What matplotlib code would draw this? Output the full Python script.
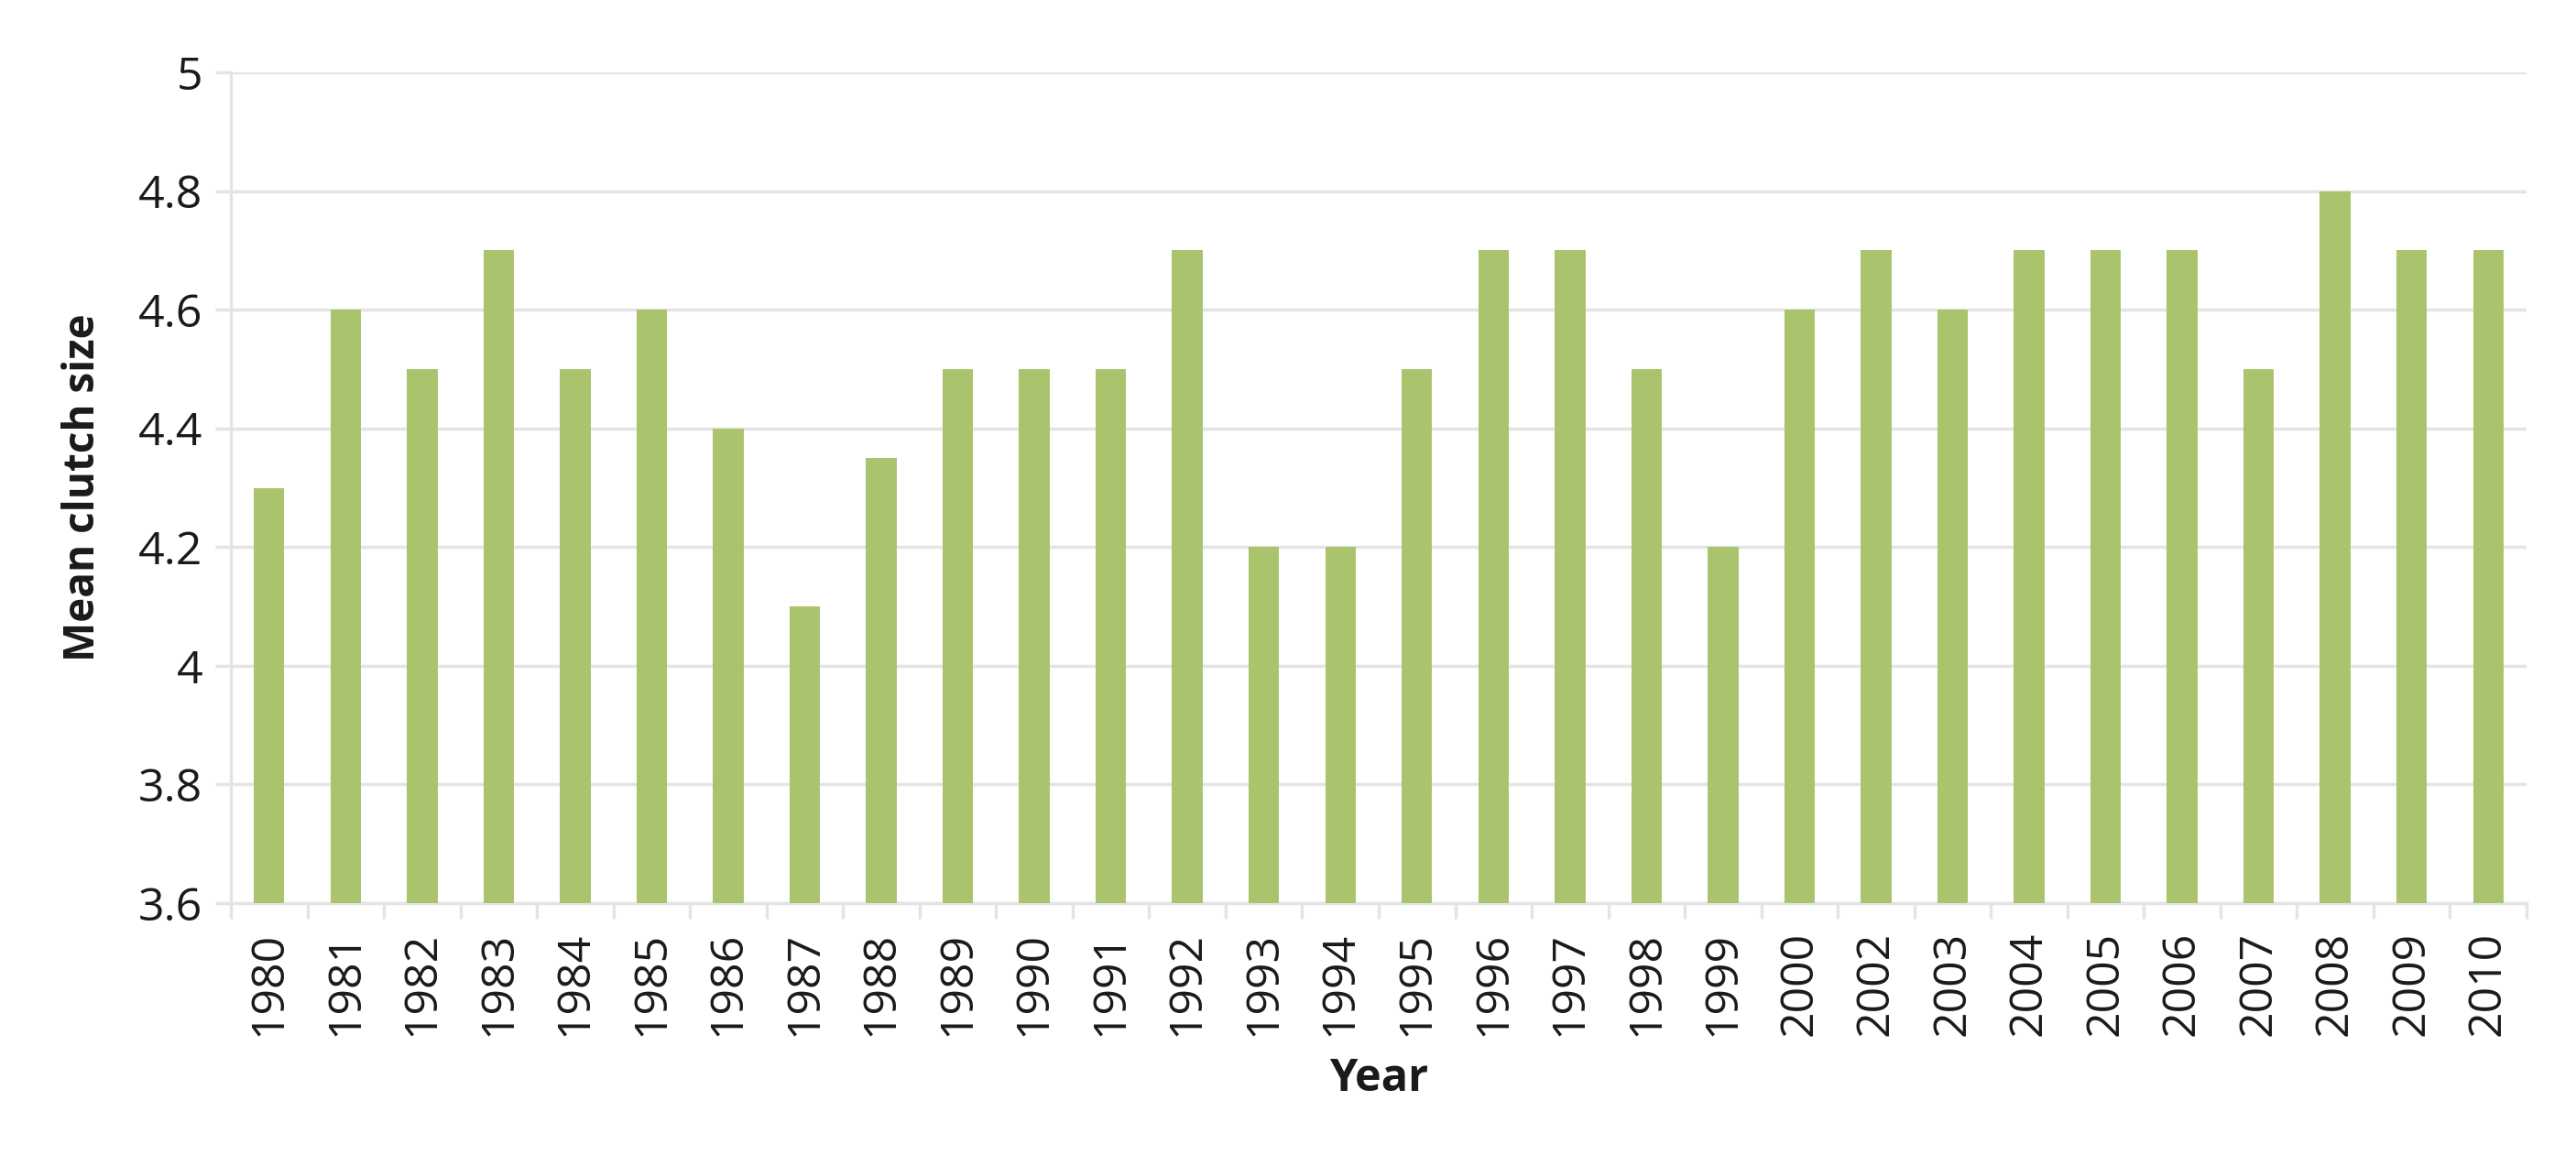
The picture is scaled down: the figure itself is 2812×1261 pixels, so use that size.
import numpy as np
import matplotlib.pyplot as plt

plt.rcParams['font.family'] = ['Open Sans', 'DejaVu Sans']

# данные
years = ['1980', '1981', '1982', '1983', '1984', '1985', '1986', '1987', '1988', '1989',
         '1990', '1991', '1992', '1993', '1994', '1995', '1996', '1997', '1998', '1999',
         '2000', '2002', '2003', '2004', '2005', '2006', '2007', '2008', '2009', '2010']
clutch = [4.3, 4.6, 4.5, 4.7, 4.5, 4.6, 4.4, 4.1, 4.35, 4.5,
          4.5, 4.5, 4.7, 4.2, 4.2, 4.5, 4.7, 4.7, 4.5, 4.2,
          4.6, 4.7, 4.6, 4.7, 4.7, 4.7, 4.5, 4.8, 4.7, 4.7]
y_ticks = [3.6, 3.8, 4.0, 4.2, 4.4, 4.6, 4.8, 5.0]
y_labels = ['3.6', '3.8', '4', '4.2', '4.4', '4.6', '4.8', '5']

grid_col = '#e4e4e4'
text_col = '#1a1a1a'

fig = plt.figure(figsize=(28.12, 12.61), dpi=100)
ax = fig.add_axes([252 / 2812, 1 - 986 / 1261, (2758 - 252) / 2812, (986 - 79) / 1261])

x = np.arange(len(years))
ax.bar(x, np.array(clutch) - 3.6, bottom=3.6, width=0.4, color='#a9c46c', zorder=3)

ax.set_xlim(-0.5, len(years) - 0.5)
ax.set_ylim(3.6, 5.0)
ax.set_yticks(y_ticks)
ax.set_yticklabels(y_labels)
ax.set_xticks(x)
ax.set_xticklabels(years, rotation=90)
ax.set_xticks(np.arange(-0.5, len(years)), minor=True)

ax.grid(axis='y', color=grid_col, linewidth=2.5, zorder=0)
for side in ['top', 'right']:
    ax.spines[side].set_visible(False)
for side in ['left', 'bottom']:
    ax.spines[side].set_color(grid_col)
    ax.spines[side].set_linewidth(2.5)

ax.tick_params(axis='y', length=12, width=2.5, color=grid_col, labelsize=36,
               labelcolor=text_col, pad=10)
ax.tick_params(axis='x', which='major', length=0, labelsize=36, labelcolor=text_col, pad=22)
ax.tick_params(axis='x', which='minor', length=12, width=2.5, color=grid_col)

ax.set_ylabel('Mean clutch size', fontsize=33, fontweight='bold', color=text_col)
ax.set_xlabel('Year', fontsize=35, fontweight='bold', color=text_col)
ax.yaxis.set_label_coords(-0.055, 0.5)
ax.xaxis.set_label_coords(0.5, -0.185)

fig.savefig('out.png', dpi=100)
